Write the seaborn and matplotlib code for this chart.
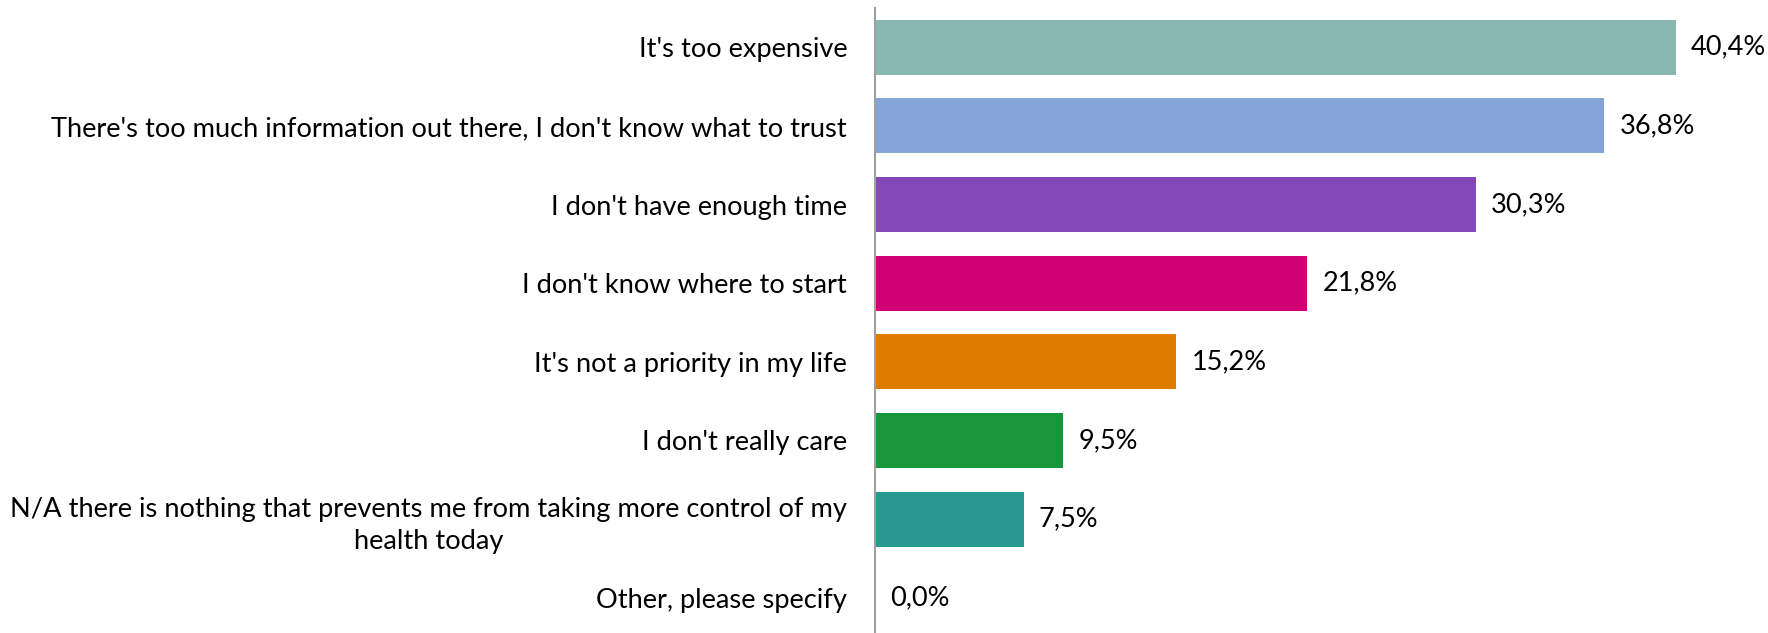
import matplotlib
matplotlib.use("Agg")
import matplotlib.pyplot as plt
import seaborn as sns
import pandas as pd

categories = [
    "It's too expensive",
    "There's too much information out there, I don't know what to trust",
    "I don't have enough time",
    "I don't know where to start",
    "It's not a priority in my life",
    "I don't really care",
    "N/A there is nothing that prevents me from taking more control of my\nhealth today",
    "Other, please specify",
]
values = [40.4, 36.8, 30.3, 21.8, 15.2, 9.5, 7.5, 0.0]
value_labels = ["40,4%", "36,8%", "30,3%", "21,8%", "15,2%", "9,5%", "7,5%", "0,0%"]
colors = ["#89B8B3", "#85A4D8", "#8447B8", "#D10075", "#DE7C00", "#19963A", "#289A90", "#9E9E9E"]

df = pd.DataFrame({"category": categories, "value": values})

sns.set_theme(style="white")
plt.rcParams["font.family"] = ["Lato", "DejaVu Sans"]

fig = plt.figure(figsize=(17.68, 6.33), dpi=100)
ax = fig.add_axes([875 / 1768, -4 / 633, 1 - 875 / 1768, 629 / 633])

sns.barplot(data=df, y="category", x="value", hue="category", palette=colors,
            order=categories, hue_order=categories, orient="h", width=0.7,
            legend=False, ax=ax, saturation=1.0, linewidth=0)

ax.set_xlim(0, 45.05)
ax.set_ylim(7.5, -0.5)
ax.set_xlabel("")
ax.set_ylabel("")
ax.set_xticks([])
ax.set_yticks(range(len(categories)))
ax.set_yticklabels(categories, fontsize=19.6, color="black",
                   multialignment="center", linespacing=1.35)
ax.tick_params(axis="y", length=0, pad=20)

for side in ["top", "right", "bottom"]:
    ax.spines[side].set_visible(False)
ax.spines["left"].set_color("#A0A0A0")
ax.spines["left"].set_linewidth(1.5)

for i, (v, lab) in enumerate(zip(values, value_labels)):
    ax.annotate(lab, xy=(v, i), xytext=(11, 0), textcoords="offset points",
                va="center", ha="left", fontsize=19.5, color="black")

fig.savefig("out.png", dpi=100)
